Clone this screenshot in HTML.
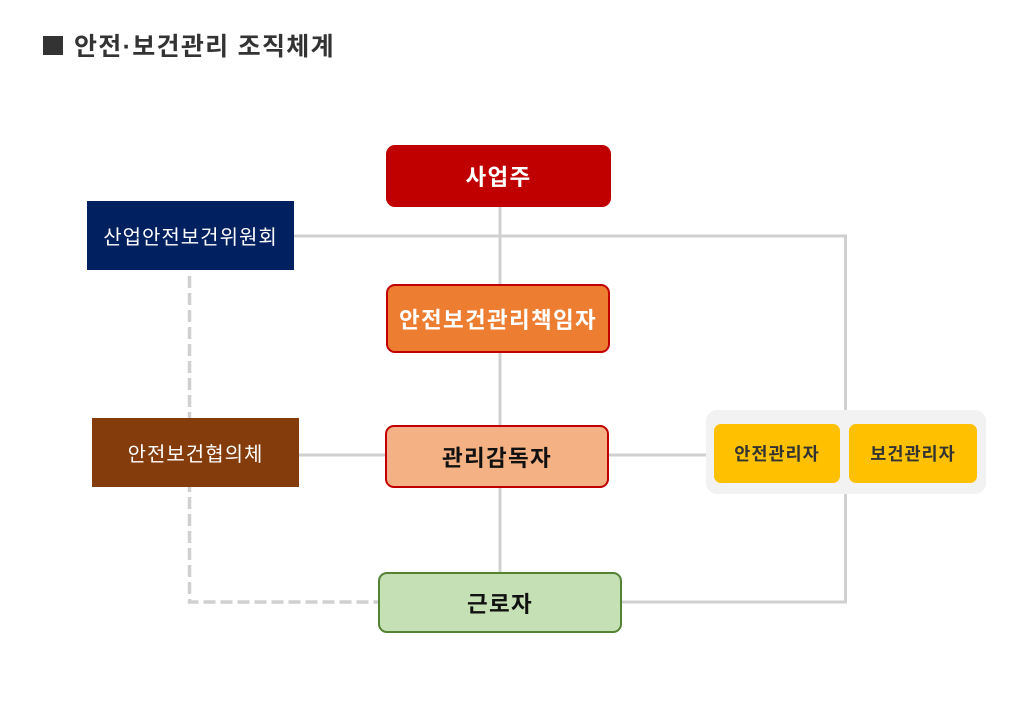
<!DOCTYPE html>
<html>
<head>
<meta charset="utf-8">
<style>
  html, body { margin:0; padding:0; background:#fff; }
  body { width:1024px; height:726px; position:relative; overflow:hidden;
    font-family: "Liberation Sans", "Noto Sans CJK KR", sans-serif; }
  .abs { position:absolute; box-sizing:border-box; display:flex; align-items:center; justify-content:center; white-space:nowrap; }
  .k { font-family:"Noto Sans CJK KR", sans-serif; }
  svg { position:absolute; left:0; top:0; }
</style>
</head>
<body>
<div class="abs" style="left:43px;top:36px;width:20px;height:19px;background:#333;"></div>
<div class="abs" style="left:74px;top:27px;height:36px;justify-content:flex-start;font-size:25px;letter-spacing:1.3px;font-weight:bold;color:#333;">안전·보건관리 조직체계</div>

<svg width="1024" height="726">
  <g stroke="#d0d0d0" stroke-width="3" fill="none">
    <line x1="500" y1="207" x2="500" y2="572"/>
    <polyline points="294,236 845.5,236 845.5,602 621,602"/>
    <line x1="299" y1="455" x2="385" y2="455"/>
    <line x1="609" y1="455" x2="706" y2="455"/>
    <polyline points="189.5,276 189.5,602 378,602" stroke-width="3.5" stroke-dasharray="12,5"/>
  </g>
</svg>

<div class="abs k" style="left:386px;top:145px;width:225px;height:62px;background:#c00000;border-radius:9px;color:#fff;font-size:22.5px;letter-spacing:1.3px;font-weight:bold;">사업주</div>

<div class="abs k" style="left:87px;top:201px;width:207px;height:69px;background:#002060;color:#fff;font-size:20px;letter-spacing:1px;">산업안전보건위원회</div>

<div class="abs k" style="left:386px;top:284px;width:224px;height:69px;background:#ed7d31;border:2px solid #c00000;border-radius:9px;color:#fff;font-size:22.5px;letter-spacing:1.3px;font-weight:bold;">안전보건관리책임자</div>

<div class="abs k" style="left:92px;top:418px;width:207px;height:69px;background:#843c0c;color:#fff;font-size:20px;letter-spacing:1px;">안전보건협의체</div>

<div class="abs k" style="left:385px;top:425px;width:224px;height:63px;background:#f4b183;border:2px solid #c00000;border-radius:9px;color:#111;font-size:22.5px;letter-spacing:1.3px;font-weight:bold;">관리감독자</div>

<div class="abs" style="left:706px;top:410px;width:280px;height:84px;background:#f2f2f2;border-radius:11px;"></div>
<div class="abs k" style="left:714px;top:424px;width:126px;height:59px;background:#ffc000;border-radius:7px;color:#333;font-size:17.5px;letter-spacing:1px;font-weight:bold;">안전관리자</div>
<div class="abs k" style="left:849px;top:424px;width:128px;height:59px;background:#ffc000;border-radius:7px;color:#333;font-size:17.5px;letter-spacing:1px;font-weight:bold;">보건관리자</div>

<div class="abs k" style="left:378px;top:572px;width:244px;height:61px;background:#c5e0b4;border:2px solid #548235;border-radius:9px;color:#111;font-size:22.5px;letter-spacing:1.3px;font-weight:bold;">근로자</div>
</body>
</html>
